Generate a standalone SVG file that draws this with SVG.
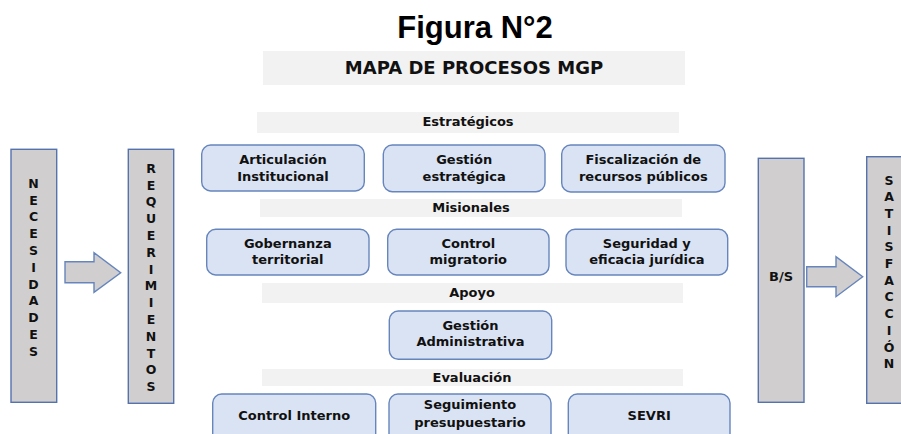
<svg xmlns="http://www.w3.org/2000/svg" width="901" height="434" viewBox="0 0 901 434">
<style>
.t{font-family:"DejaVu Sans","Liberation Sans",sans-serif;font-weight:bold;font-size:13px;fill:#111;text-anchor:middle}
.l{font-family:"DejaVu Sans","Liberation Sans",sans-serif;font-weight:bold;font-size:12.5px;fill:#111;text-anchor:middle}
.box{fill:#dae3f3;stroke:#6685bd;stroke-width:1.4}
.bar{fill:#f2f2f2}
.side{fill:#d0cece;stroke:#5473ae;stroke-width:1.4}
.arr{fill:#d0cece;stroke:#6685bd;stroke-width:1.4}
</style>
<rect width="901" height="434" fill="#fff"/>
<g id="title">
<text x="475" y="37.5" style="font-family:'Liberation Sans',Arial,sans-serif;font-weight:bold;font-size:31px;fill:#000;text-anchor:middle">Figura N°2</text>
</g>
<g id="mapa">
<rect class="bar" x="263" y="51" width="422" height="34"/>
<text class="t" x="474" y="74" style="font-size:18px">MAPA DE PROCESOS MGP</text>
</g>
<g id="estrategicos">
<rect class="bar" x="257" y="112" width="422" height="21"/>
<text class="t" x="468" y="126">Estratégicos</text>
</g>
<g id="misionales">
<rect class="bar" x="260" y="199" width="422" height="18"/>
<text class="t" x="471" y="211.7">Misionales</text>
</g>
<g id="apoyo">
<rect class="bar" x="262" y="283" width="421" height="20"/>
<text class="t" x="472" y="297.3">Apoyo</text>
</g>
<g id="evaluacion">
<rect class="bar" x="262" y="369" width="421" height="17"/>
<text class="t" x="472" y="381.7">Evaluación</text>
</g>
<g id="necesidades">
<rect class="side" x="11" y="149.3" width="45.7" height="253"/>
<text class="l"><tspan x="33.5" y="187.8">N</tspan><tspan x="33.5" y="204.6">E</tspan><tspan x="33.5" y="221.4">C</tspan><tspan x="33.5" y="238.2">E</tspan><tspan x="33.5" y="255">S</tspan><tspan x="33.5" y="271.8">I</tspan><tspan x="33.5" y="288.6">D</tspan><tspan x="33.5" y="305.4">A</tspan><tspan x="33.5" y="322.2">D</tspan><tspan x="33.5" y="339">E</tspan><tspan x="33.5" y="355.8">S</tspan></text>
</g>
<g id="requerimientos">
<rect class="side" x="128.3" y="149.3" width="45.4" height="254"/>
<text class="l"><tspan x="151" y="172.8">R</tspan><tspan x="151" y="189.6">E</tspan><tspan x="151" y="206.4">Q</tspan><tspan x="151" y="223.2">U</tspan><tspan x="151" y="240">E</tspan><tspan x="151" y="256.8">R</tspan><tspan x="151" y="273.6">I</tspan><tspan x="151" y="290.4">M</tspan><tspan x="151" y="307.2">I</tspan><tspan x="151" y="324">E</tspan><tspan x="151" y="340.8">N</tspan><tspan x="151" y="357.6">T</tspan><tspan x="151" y="374.4">O</tspan><tspan x="151" y="391.2">S</tspan></text>
</g>
<g id="bs">
<rect class="side" x="758.3" y="158.3" width="45.7" height="244"/>
<text class="t" x="781" y="281">B/S</text>
</g>
<g id="satisfaccion">
<rect class="side" x="866.7" y="156.7" width="40" height="246.6"/>
<text class="l"><tspan x="889" y="184.5">S</tspan><tspan x="889" y="201.2">A</tspan><tspan x="889" y="217.9">T</tspan><tspan x="889" y="234.6">I</tspan><tspan x="889" y="251.3">S</tspan><tspan x="889" y="268">F</tspan><tspan x="889" y="284.7">A</tspan><tspan x="889" y="301.4">C</tspan><tspan x="889" y="318.1">C</tspan><tspan x="889" y="334.8">I</tspan><tspan x="889" y="351.5">Ó</tspan><tspan x="889" y="368.2">N</tspan></text>
</g>
<g id="articulacion">
<rect class="box" x="201.7" y="145" width="162.6" height="46" rx="9"/>
<text class="t"><tspan x="283" y="164.3">Articulación</tspan><tspan x="283" y="181">Institucional</tspan></text>
</g>
<g id="gestion-estrategica">
<rect class="box" x="383.3" y="145" width="161.7" height="46.7" rx="9"/>
<text class="t"><tspan x="464.2" y="164.3">Gestión</tspan><tspan x="464.2" y="181">estratégica</tspan></text>
</g>
<g id="fiscalizacion">
<rect class="box" x="561.7" y="145" width="163.3" height="47" rx="9"/>
<text class="t"><tspan x="643.3" y="164.3">Fiscalización de</tspan><tspan x="643.3" y="181">recursos públicos</tspan></text>
</g>
<g id="gobernanza">
<rect class="box" x="206.7" y="229.3" width="162.3" height="45.7" rx="9"/>
<text class="t"><tspan x="287.8" y="247.7">Gobernanza</tspan><tspan x="287.8" y="264.3">territorial</tspan></text>
</g>
<g id="control-migratorio">
<rect class="box" x="387.7" y="229.3" width="161.3" height="45.7" rx="9"/>
<text class="t"><tspan x="468.3" y="247.7">Control</tspan><tspan x="468.3" y="264.3">migratorio</tspan></text>
</g>
<g id="seguridad">
<rect class="box" x="566" y="229.3" width="161.7" height="45.7" rx="9"/>
<text class="t"><tspan x="646.8" y="247.7">Seguridad y</tspan><tspan x="646.8" y="264.3">eficacia jurídica</tspan></text>
</g>
<g id="gestion-administrativa">
<rect class="box" x="389.3" y="311" width="162.4" height="48.3" rx="9"/>
<text class="t"><tspan x="470.5" y="330">Gestión</tspan><tspan x="470.5" y="346">Administrativa</tspan></text>
</g>
<g id="control-interno">
<rect class="box" x="212.7" y="394" width="163" height="50" rx="9"/>
<text class="t" x="294.2" y="420">Control Interno</text>
</g>
<g id="seguimiento">
<rect class="box" x="389" y="394" width="162" height="50" rx="9"/>
<text class="t"><tspan x="470" y="409.3">Seguimiento</tspan><tspan x="470" y="426.7">presupuestario</tspan></text>
</g>
<g id="sevri">
<rect class="box" x="568.3" y="394" width="161.7" height="50" rx="9"/>
<text class="t" x="649.2" y="420">SEVRI</text>
</g>
<g id="connectors">
<polygon class="arr" points="65,261.7 94,261.7 94,252.7 120.7,272.7 94,292.3 94,282.7 65,282.7"/>
<polygon class="arr" points="806.7,266.7 836,266.7 836,256.7 862.7,276.7 836,296.7 836,286.7 806.7,286.7"/>
</g>
</svg>
